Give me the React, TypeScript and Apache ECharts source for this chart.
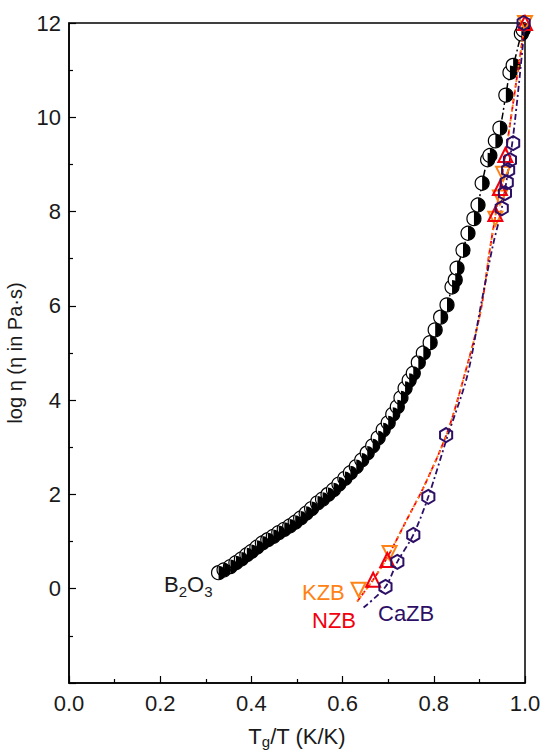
import React, { useEffect, useRef } from "react";
import * as echarts from "echarts";

// B2O3 measured points [Tg/T, log eta]
const b2o3X = [0.328, 0.340, 0.354, 0.366, 0.378, 0.390, 0.400, 0.412, 0.424, 0.436, 0.448, 0.460, 0.472, 0.484, 0.496, 0.508, 0.520, 0.532, 0.545, 0.556, 0.568, 0.580, 0.592, 0.605, 0.617, 0.630, 0.642, 0.654, 0.666, 0.678, 0.689, 0.700, 0.710, 0.720, 0.728, 0.737, 0.746, 0.755, 0.766, 0.777, 0.792, 0.803, 0.815, 0.829, 0.840, 0.847, 0.851, 0.864, 0.875, 0.888, 0.897, 0.906, 0.918, 0.923, 0.935, 0.945, 0.958, 0.967, 0.974, 0.992, 0.996];
const b2o3Y = [0.34, 0.40, 0.47, 0.55, 0.63, 0.72, 0.79, 0.88, 0.97, 1.04, 1.11, 1.19, 1.26, 1.33, 1.41, 1.50, 1.60, 1.70, 1.82, 1.90, 2.00, 2.10, 2.22, 2.34, 2.46, 2.59, 2.73, 2.88, 3.03, 3.20, 3.37, 3.52, 3.70, 3.86, 4.05, 4.25, 4.42, 4.57, 4.80, 5.00, 5.22, 5.49, 5.76, 6.02, 6.40, 6.55, 6.80, 7.18, 7.54, 7.85, 8.14, 8.60, 9.10, 9.19, 9.50, 9.77, 10.47, 10.95, 11.10, 11.77, 11.85];

const nzbX = [0.667, 0.698, 0.935, 0.945, 0.957, 1.0];
const nzbY = [0.19, 0.61, 7.95, 8.5, 9.2, 12];
const kzbX = [0.635, 0.703, 0.935, 0.945, 0.952, 1.0];
const kzbY = [-0.02, 0.76, 7.85, 8.3, 8.8, 12];
const cazbX = [0.694, 0.720, 0.755, 0.788, 0.827, 0.949, 0.956, 0.960, 0.963, 0.967, 0.974, 0.997];
const cazbY = [0.04, 0.57, 1.14, 1.95, 3.26, 8.07, 8.39, 8.62, 8.88, 9.09, 9.45, 12];

// fitted curves
const nzbFitX = [0.632, 0.667, 0.70, 0.74, 0.78, 0.829, 0.865, 0.902, 0.923, 0.935, 0.957, 0.98, 1.0];
const nzbFitY = [-0.27, 0.19, 0.70, 1.45, 2.2, 3.3, 4.45, 5.85, 7.2, 7.9, 9.2, 10.7, 12];
const cazbFitX = [0.646, 0.694, 0.72, 0.755, 0.788, 0.829, 0.873, 0.905, 0.93, 0.949, 0.974, 1.0];
const cazbFitY = [-0.4, 0.04, 0.57, 1.14, 1.95, 3.2, 4.5, 6.1, 7.3, 8.07, 9.6, 12];

const xTicks = [0, 0.2, 0.4, 0.6, 0.8, 1.0];
const yTicks = [-2, 0, 2, 4, 6, 8, 10, 12];

const zip = (xs: number[], ys: number[]) => xs.map((x, i) => [x, ys[i]]);

const FONT = "Liberation Sans, Arial, sans-serif";
const TXT = "#1a1a1a";
const RED = "#f2000d";
const ORANGE = "#ff8214";
const PURPLE = "#2d0f66";
const HEX = "path://M0,-10 L8.66,-5 L8.66,5 L0,10 L-8.66,5 L-8.66,-5 Z";
const HALF = "path://M0,0 A10,10 0 0,1 0,20 Z";
const MS = 14;

export default function App() {
  const ref = useRef<HTMLDivElement>(null);
  useEffect(() => {
    const chart = echarts.init(ref.current!, undefined, { renderer: "svg" });
    const b2o3 = zip(b2o3X, b2o3Y);
    chart.setOption({
      animation: false,
      backgroundColor: "#fff",
      grid: { left: 69, right: 17, top: 23, bottom: 69, show: true, borderColor: "#000", borderWidth: 1.5, outerBoundsMode: "none", containLabel: false },
      xAxis: {
        type: "value",
        min: xTicks[0],
        max: xTicks[xTicks.length - 1],
        interval: 0.2,
        axisLine: { show: true, onZero: false, lineStyle: { color: "#000", width: 1.5 } },
        axisTick: { show: true, inside: true, length: 7, lineStyle: { color: "#000", width: 1.2 } },
        minorTick: { show: true, splitNumber: 2, length: 4, lineStyle: { color: "#000", width: 1.2 } },
        splitLine: { show: false },
        axisLabel: { color: TXT, fontSize: 22, fontFamily: FONT, margin: 9, formatter: (v: number) => v.toFixed(1) },
        name: "T{sub|g}/T (K/K)",
        nameLocation: "middle",
        nameGap: 40,
        nameTextStyle: {
          color: TXT, fontSize: 22, fontFamily: FONT, lineHeight: 26,
          rich: { sub: { fontSize: 15, fontFamily: FONT, color: TXT, verticalAlign: "bottom", lineHeight: 26 } },
        },
      },
      yAxis: {
        type: "value",
        min: -2,
        max: 12,
        interval: 2,
        axisLine: { show: true, onZero: false, lineStyle: { color: "#000", width: 1.5 } },
        axisTick: { show: true, inside: true, length: 7, lineStyle: { color: "#000", width: 1.2 } },
        minorTick: { show: true, splitNumber: 2, length: 4, lineStyle: { color: "#000", width: 1.2 } },
        splitLine: { show: false },
        axisLabel: { color: TXT, fontSize: 22, fontFamily: FONT, margin: 8, formatter: (v: number) => (v === yTicks[0] ? "" : String(v)) },
        name: "log η (η in Pa·s)",
        nameLocation: "middle",
        nameGap: 44,
        nameTextStyle: { color: TXT, fontSize: 20, fontFamily: FONT },
      },
      series: [
        { type: "line", data: b2o3, smooth: true, symbol: "none", lineStyle: { color: "#000", width: 1.5, type: [7, 3, 2, 3] }, z: 1 },
        { type: "scatter", data: b2o3, symbol: "circle", symbolSize: MS, itemStyle: { color: "#fff", borderColor: "#000", borderWidth: 1.2, opacity: 1 }, z: 2 },
        { type: "scatter", data: b2o3, symbol: HALF, symbolSize: [MS / 2, MS], symbolOffset: [MS / 4, 0], itemStyle: { color: "#000", opacity: 1 }, z: 3 },
        { type: "line", data: zip(nzbFitX, nzbFitY), smooth: 0.3, symbol: "none", lineStyle: { color: RED, width: 1.8, type: [5, 3] }, z: 4 },
        { type: "line", data: zip(nzbFitX, nzbFitY), smooth: 0.3, symbol: "none", lineStyle: { color: ORANGE, width: 1.8, type: [2, 3] }, z: 4 },
        { type: "line", data: zip(cazbFitX, cazbFitY), smooth: 0.3, symbol: "none", lineStyle: { color: PURPLE, width: 1.8, type: [6, 3, 2, 3] }, z: 4 },
        { type: "scatter", data: zip(kzbX, kzbY), symbol: "triangle", symbolRotate: 180, symbolSize: MS, itemStyle: { color: "rgba(255,255,255,0)", borderColor: ORANGE, borderWidth: 2, opacity: 1 }, z: 5 },
        { type: "scatter", data: zip(nzbX, nzbY), symbol: "triangle", symbolSize: MS, itemStyle: { color: "rgba(255,255,255,0)", borderColor: RED, borderWidth: 2, opacity: 1 }, z: 6 },
        { type: "scatter", data: zip(cazbX, cazbY), symbol: HEX, symbolKeepAspect: true, symbolSize: MS, itemStyle: { color: "rgba(255,255,255,0)", borderColor: PURPLE, borderWidth: 2, opacity: 1 }, z: 7 },
      ],
      graphic: [
        {
          type: "text", x: 164, y: 584,
          style: {
            text: "B{sub|2}O{sub|3}", fill: TXT, fontSize: 22, fontFamily: FONT, lineHeight: 30, verticalAlign: "middle",
            rich: { sub: { fontSize: 15, fontFamily: FONT, fill: TXT, verticalAlign: "bottom", lineHeight: 30 } },
          },
        },
        { type: "text", x: 302, y: 592, style: { text: "KZB", fill: ORANGE, fontSize: 22, fontFamily: FONT, verticalAlign: "middle" } },
        { type: "text", x: 312, y: 620, style: { text: "NZB", fill: RED, fontSize: 22, fontFamily: FONT, verticalAlign: "middle" } },
        { type: "text", x: 378, y: 613, style: { text: "CaZB", fill: PURPLE, fontSize: 22, fontFamily: FONT, verticalAlign: "middle" } },
      ],
    });
    return () => chart.dispose();
  }, []);
  return <div ref={ref} style={{ width: 542, height: 752, position: "absolute", left: 0, top: 0 }} />;
}
